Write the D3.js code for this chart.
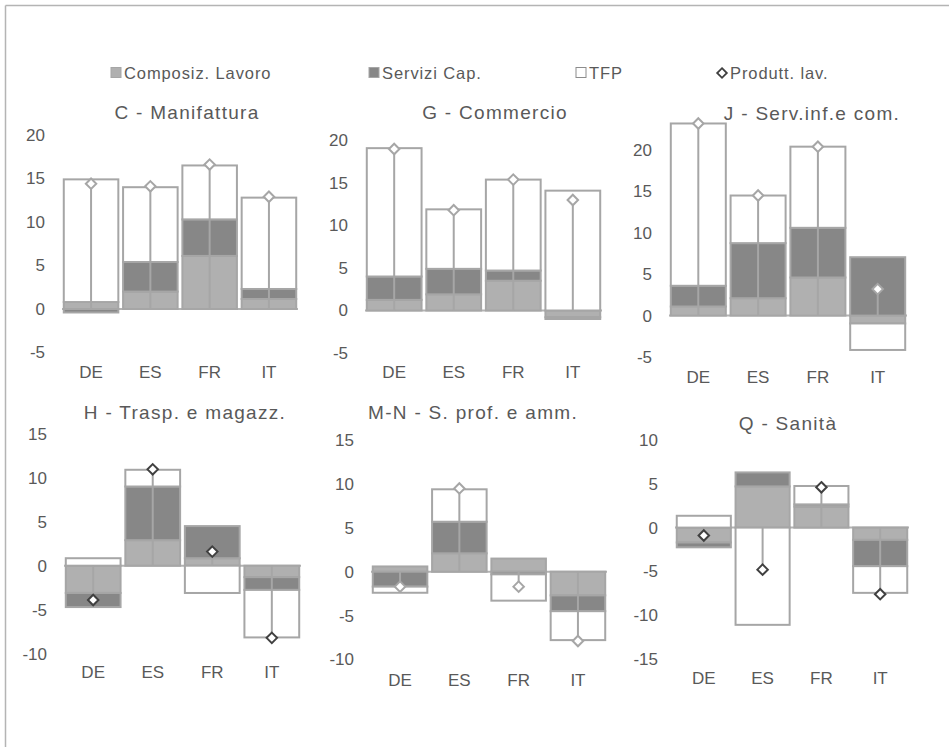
<!DOCTYPE html>
<html><head><meta charset="utf-8">
<script src="https://cdn.jsdelivr.net/npm/d3@7"></script>
<style>
body{margin:0;background:#fff;}
text{font-family:"Liberation Sans",Arial,sans-serif;fill:#595959;}
</style>
</head><body>
<svg id="chart" width="949" height="747"></svg>
<script>
// ---------- DATA ----------
const categories = ["DE", "ES", "FR", "IT"];
const sectors = ["C - Manifattura", "G - Commercio", "J - Serv.inf.e com.",
                 "H - Trasp. e magazz.", "M-N - S. prof. e amm.", "Q - Sanità"];
const seriesNames = ["Composiz. Lavoro", "Servizi Cap.", "TFP", "Produtt. lav."];
// one row per sector, values per country (DE, ES, FR, IT)
const composizLavoro = [
  [0.8, 2.0, 6.1, 1.15],
  [1.25, 1.9, 3.5, -0.8],
  [1.1, 2.1, 4.6, -0.95],
  [-3.1, 2.9, 0.85, -1.3],
  [0.6, 2.1, 1.5, -2.7],
  [-1.7, 4.7, 2.4, -1.4]
];
const serviziCap = [
  [-0.4, 3.4, 4.2, 1.15],
  [2.75, 3.0, 1.2, -0.2],
  [2.5, 6.65, 6.0, 7.05],
  [-1.6, 6.1, 3.65, -1.45],
  [-1.7, 3.6, -0.3, -1.8],
  [-0.55, 1.6, 0.25, -3.0]
];
const tfp = [
  [14.1, 8.6, 6.2, 10.5],
  [15.1, 7.0, 10.7, 14.1],
  [19.6, 5.75, 9.8, -3.2],
  [0.85, 1.9, -3.1, -5.4],
  [-0.7, 3.7, -3.0, -3.3],
  [1.35, -11.1, 2.1, -3.05]
];
const produttLav = [
  [14.4, 14.1, 16.6, 12.9],
  [19.0, 11.8, 15.4, 13.0],
  [23.2, 14.5, 20.4, 3.2],
  [-3.9, 10.95, 1.6, -8.2],
  [-1.7, 9.5, -1.7, -7.9],
  [-0.9, -4.8, 4.6, -7.6]
];
const yMin = [-5, -5, -5, -10, -10, -15];
const yMax = [20, 20, 23.5, 15, 15, 10];
const yTickStep = 5;

// ---------- LAYOUT ----------
const layout = [
  {x0: 62,  x1: 298, yTop: 135,   yBot: 352.5, tx: 187, ty: 112, lx: 374, dark: false},
  {x0: 365, x1: 602, yTop: 140.5, yBot: 353,   tx: 495, ty: 112, lx: 374, dark: false},
  {x0: 669, x1: 907, yTop: 121,   yBot: 357,   tx: 812, ty: 113, lx: 379, dark: false},
  {x0: 64,  x1: 301, yTop: 433.7, yBot: 653.7, tx: 185, ty: 412, lx: 674, dark: true},
  {x0: 371, x1: 607, yTop: 440.2, yBot: 659.4, tx: 473, ty: 412, lx: 682, dark: false},
  {x0: 675, x1: 909, yTop: 440,   yBot: 659,   tx: 788, ty: 423, lx: 680, dark: true}
];
const colCL = "#b0b0b0", colSC = "#878787", colTFP = "#ffffff";
const strokeCol = "#a6a6a6", darkStroke = "#404040", textCol = "#595959";
const fontFam = '"Liberation Sans",Arial,sans-serif';

const svg = d3.select("#chart");
svg.append("rect").attr("width", 949).attr("height", 747).attr("fill", "#fff");
// outer frame (top and left edges visible)
svg.append("line").attr("x1", 5.5).attr("x2", 949).attr("y1", 5.5).attr("y2", 5.5)
  .attr("stroke", "#b4b4b4").attr("stroke-width", 1.5);
svg.append("line").attr("x1", 5.5).attr("x2", 5.5).attr("y1", 5.5).attr("y2", 747)
  .attr("stroke", "#b4b4b4").attr("stroke-width", 1.5);

// ---------- LEGEND ----------
const legend = svg.append("g");
const legItems = [
  {x: 111, fill: colCL, type: "sq"},
  {x: 369, fill: colSC, type: "sq"},
  {x: 576, fill: colTFP, type: "sq"},
  {x: 717, fill: "#fff", type: "dia"}
];
legItems.forEach((it, i) => {
  if (it.type === "sq") {
    legend.append("rect").attr("x", it.x).attr("y", 67.5).attr("width", 10).attr("height", 10)
      .attr("fill", it.fill).attr("stroke", i === 2 ? "#8c8c8c" : strokeCol).attr("stroke-width", 1);
  } else {
    legend.append("path").attr("d", d3.symbol(d3.symbolDiamond2, 60)())
      .attr("transform", `translate(${it.x + 5},73)`)
      .attr("fill", "#fff").attr("stroke", darkStroke).attr("stroke-width", 1.8);
  }
  legend.append("text").attr("x", it.x + 13).attr("y", 73).attr("dy", "0.36em")
    .attr("font-size", 16.5).attr("letter-spacing", "0.9px").text(seriesNames[i]);
});

// ---------- PANELS ----------
sectors.forEach((sec, s) => {
  const L = layout[s];
  const g = svg.append("g");
  const x = d3.scaleBand().domain(categories).range([L.x0, L.x1]).paddingInner(0.08).paddingOuter(0.03);
  const y = d3.scaleLinear().domain([yMin[s], yMax[s]]).range([L.yBot, L.yTop]);

  // title
  g.append("text").attr("x", L.tx).attr("y", L.ty).attr("dy", "0.36em").attr("text-anchor", "middle")
    .attr("font-size", 19).attr("letter-spacing", "1.3px").text(sec);

  // y axis labels (no line)
  const yAxis = d3.axisLeft(y).tickValues(d3.range(yMin[s], Math.floor(yMax[s]) + 0.001, yTickStep))
    .tickSize(0).tickPadding(0).tickFormat(d => String(d));
  const ya = g.append("g").attr("transform", `translate(${L.x0 - 17},0)`).call(yAxis);
  ya.select(".domain").remove();
  ya.selectAll("text").attr("font-size", 17).attr("fill", textCol).attr("font-family", fontFam);

  // x labels at bottom
  const xAxis = d3.axisBottom(x).tickSize(0).tickPadding(0);
  const xa = g.append("g").attr("transform", `translate(0,${L.lx - 8.5})`).call(xAxis);
  xa.select(".domain").remove();
  xa.selectAll("text").attr("font-size", 17).attr("fill", textCol).attr("dy", "0.71em")
    .attr("font-family", fontFam);

  // zero line
  g.append("line").attr("x1", L.x0).attr("x2", L.x1).attr("y1", y(0)).attr("y2", y(0))
    .attr("stroke", "#b3b3b3").attr("stroke-width", 2);

  // stacked bars (positive and negative stacks separately)
  const segs = [];
  categories.forEach((c, i) => {
    let pos = 0, neg = 0;
    [[composizLavoro[s][i], colCL], [serviziCap[s][i], colSC], [tfp[s][i], colTFP]].forEach(([v, col]) => {
      if (v >= 0) { segs.push({c, a: pos, b: pos + v, col}); pos += v; }
      else { segs.push({c, a: neg + v, b: neg, col}); neg += v; }
    });
  });
  g.selectAll("rect.seg").data(segs).join("rect").attr("class", "seg")
    .attr("x", d => x(d.c)).attr("width", x.bandwidth())
    .attr("y", d => y(d.b)).attr("height", d => Math.max(0, y(d.a) - y(d.b)))
    .attr("fill", d => d.col).attr("stroke", strokeCol).attr("stroke-width", 2);

  // drop lines from marker to zero
  g.selectAll("line.drop").data(categories).join("line").attr("class", "drop")
    .attr("x1", c => x(c) + x.bandwidth() / 2).attr("x2", c => x(c) + x.bandwidth() / 2)
    .attr("y1", y(0)).attr("y2", (c, i) => y(produttLav[s][i]))
    .attr("stroke", strokeCol).attr("stroke-width", 2);

  // diamonds
  g.selectAll("path.dia").data(categories).join("path").attr("class", "dia")
    .attr("d", d3.symbol(d3.symbolDiamond2, 70)())
    .attr("transform", (c, i) => `translate(${x(c) + x.bandwidth() / 2},${y(produttLav[s][i])})`)
    .attr("fill", "#fff").attr("stroke", L.dark ? darkStroke : strokeCol).attr("stroke-width", 2);
});
</script>
</body></html>
